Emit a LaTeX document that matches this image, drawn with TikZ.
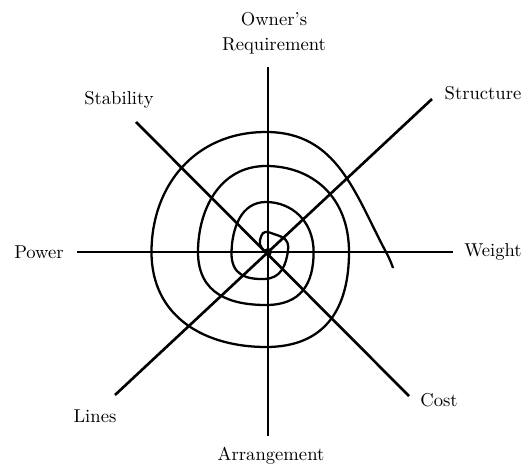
\documentclass[tikz,border=0pt]{standalone}
\usepackage{tikz}

\begin{document}
\begin{tikzpicture}[x=0.2mm, y=0.2mm,
    axis/.style={line width=1.3pt},
    diag/.style={line width=1.5pt},
    spiral/.style={line width=1.3pt, line join=round},
    lbl/.style={font=\fontsize{10.6}{14.4}\selectfont, inner sep=1pt}]
  \useasboundingbox (-268,252) rectangle (264,-216);
  \coordinate (c) at (0,0);
  \coordinate (ownerEnd) at (0,185);
  \coordinate (arrEnd) at (0,-184);
  \coordinate (powerEnd) at (-191,0);
  \coordinate (weightEnd) at (185,0);
  \coordinate (structEnd) at (164,153);
  \coordinate (linesEnd) at (-153,-143);
  \coordinate (stabEnd) at (-132,130);
  \coordinate (costEnd) at (141,-144);
  % the eight directions
  \draw[axis] (ownerEnd) -- (arrEnd);
  \draw[axis] (powerEnd) -- (weightEnd);
  \draw[diag] (structEnd) -- (linesEnd);
  \draw[diag] (stabEnd) -- (costEnd);
  % design spiral, cut off just below the weight axis
  \begin{scope}
    \clip (-268,252) -- (264,252) -- (264,-16) -- (95,-16) -- (95,-216) -- (-268,-216) -- cycle;
    \draw[spiral] plot[smooth, tension=1.1] coordinates {(-3,0) (-8,12) (3,19) (20,1) (-4,-27)
      (-36.5,0) (-2,50) (45.6,0) (-2,-53) (-70,0) (-2,86) (81,0) (-2,-95) (-116.5,0)
      (-2,120) (118,0) (100,-70)};
  \end{scope}
  \fill (c) circle (4);
  % labels
  \node[lbl, align=center] (owner) at (6,219) {Owner's\\Requirement};
  \node[lbl] (struct) at (215,159) {Structure};
  \node[lbl] (stab) at (-149,152) {Stability};
  \node[lbl] (power) at (-229,0) {Power};
  \node[lbl] (weight) at (225,0) {Weight};
  \node[lbl] (cost) at (171,-148) {Cost};
  \node[lbl] (lines) at (-173,-164) {Lines};
  \node[lbl] (arr) at (3,-204) {Arrangement};
\end{tikzpicture}
\end{document}
